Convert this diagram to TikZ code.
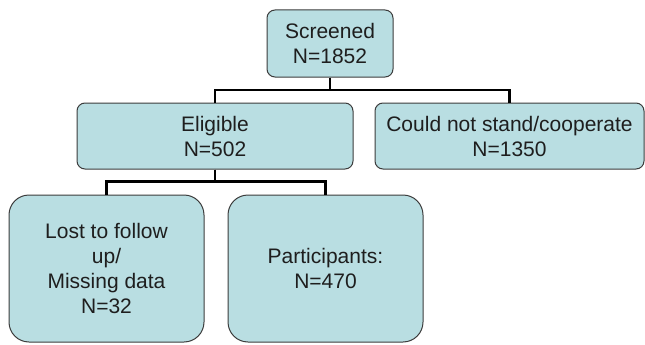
\documentclass[tikz,border=0pt]{standalone}
\usepackage{fontspec}
\setmainfont{Liberation Sans}
\usepackage{xcolor}
\usepackage{tikz}
\usetikzlibrary{positioning}
\definecolor{boxfill}{RGB}{185,222,226}
\definecolor{boxline}{RGB}{60,60,60}
\definecolor{boxtext}{RGB}{30,30,30}

\begin{document}
\begin{tikzpicture}[
    x=1pt, y=1pt,
    box/.style={rectangle, draw=boxline, line width=1pt, fill=boxfill, text=boxtext, align=center, inner sep=0pt, rounded corners=8pt, minimum height=66pt, font=\fontsize{21}{25}\selectfont},
    bigbox/.style={box, rounded corners=20pt, minimum width=195pt, minimum height=147pt},
    link/.style={draw=black, line width=2.2pt}
]
\useasboundingbox (0,0) rectangle (645,-345);

% Top level
\node[box, minimum width=126pt, minimum height=67pt] (screened) at (330,-43.5) {Screened\\N=1852};

% Second level
\node[box, below=25pt of screened, xshift=-115pt, minimum width=276pt] (eligible) {Eligible\\N=502};
\node[box, right=21pt of eligible, minimum width=269pt] (notstand) {Could not stand/cooperate\\N=1350};

% Third level
\node[bigbox, below=25pt of eligible, xshift=-108.5pt] (lost) {Lost to follow\\up/\\Missing data\\N=32};
\node[bigbox, right=23pt of lost] (participants) {Participants:\\N=470};

% Connectors - Screened
\draw[link] (screened.south) -- ++(0,-12.5) -| (eligible.north);
\draw[link] (screened.south) -- ++(0,-12.5) -| (notstand.north);

% Connectors - Eligible
\draw[link] (eligible.south) -- ++(0,-12) -| (lost.north);
\draw[link] (eligible.south) -- ++(0,-12) -| (participants.north);

\end{tikzpicture}
\end{document}
